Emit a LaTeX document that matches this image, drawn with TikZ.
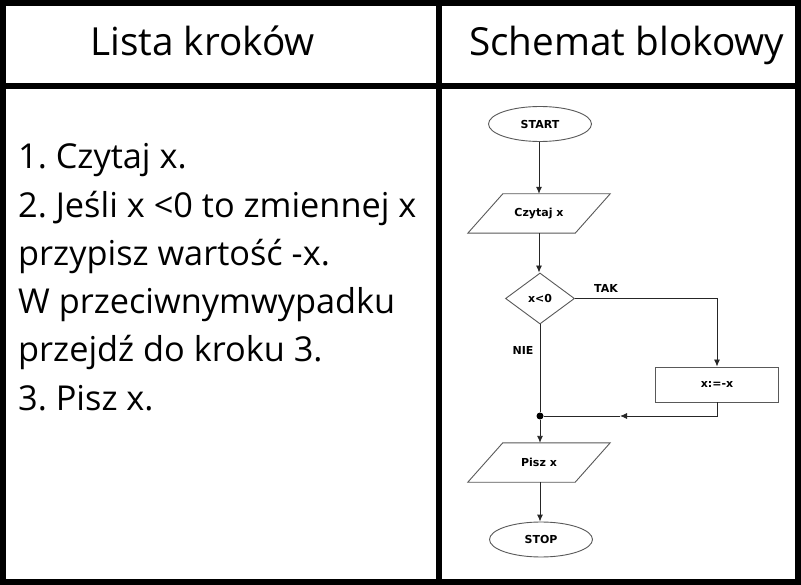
\documentclass[tikz,border=0pt]{standalone}
\usepackage{fontspec}
\setmainfont{Open Sans}
\newfontfamily\fcfont{DejaVu Sans}
\usetikzlibrary{shapes.geometric,arrows.meta}
\begin{document}
\frenchspacing
\begin{tikzpicture}[x=1pt,y=-1pt,
  hdr/.style={anchor=base west,inner sep=0,font=\fontsize{38.7}{40}\selectfont},
  body/.style={anchor=base west,inner sep=0,font=\fontsize{34.3}{36}\selectfont},
  fcfontstyle/.style={font=\fcfont\bfseries\fontsize{11}{12}\selectfont},
  fc/.style={draw=black!65,line width=0.9pt,fcfontstyle,inner sep=0},
  term/.style={fc,ellipse,minimum width=103,minimum height=35},
  iobox/.style={fcfontstyle,rectangle,inner sep=0,minimum width=107,minimum height=39},
  dec/.style={fc,diamond,minimum width=69,minimum height=51},
  proc/.style={fc,rectangle,minimum width=123,minimum height=35},
  ioline/.style={draw=black!65,line width=0.9pt},
  conn/.style={draw=black!85,line width=0.9pt},
  flow/.style={conn,-{Latex[length=7pt,width=6pt]}},
  lbl/.style={fcfontstyle,inner sep=0}
]
\useasboundingbox (0,0) rectangle (801,585);
% frame and cells
\fill[black] (0,0) rectangle (801,585);
\fill[white] (6,6) rectangle (436,83);
\fill[white] (442,6) rectangle (795,83);
\fill[white] (6,89) rectangle (436,579);
\fill[white] (442,89) rectangle (795,579);
% headers
\node[hdr] (h1) at (90,56) {Lista kroków};
\node[hdr] (h2) at (469,56) {Schemat blokowy};
% steps list
\node[body] (l1) at (18,169) {1. Czytaj x.};
\node[body] (l2) at (18,217.2) {2. Jeśli x <0 to zmiennej x};
\node[body] (l3) at (18,265.4) {przypisz wartość -x.};
\node[body] (l4) at (18,313.6) {W przeciwnymwypadku};
\node[body] (l5) at (18,361.8) {przejdź do kroku 3.};
\node[body] (l6) at (18,410) {3. Pisz x.};
% flowchart
\node[term] (start) at (540,124) {START};
\node[iobox] (czytaj) at (539,213.5) {Czytaj x};
\draw[ioline] ([xshift=17.5]czytaj.north west) -- ([xshift=17.5]czytaj.north east)
  -- ([xshift=-17.5]czytaj.south east) -- ([xshift=-17.5]czytaj.south west) -- cycle;
\node[dec] (cond) at (540,298.5) {x<0};
\node[proc] (neg) at (717,384.5) {x:=-x};
\node[circle,fill=black,inner sep=0,minimum size=7] (dot) at (540,416) {};
\node[iobox] (pisz) at (539,462.5) {Pisz x};
\draw[ioline] ([xshift=17.5]pisz.north west) -- ([xshift=17.5]pisz.north east)
  -- ([xshift=-17.5]pisz.south east) -- ([xshift=-17.5]pisz.south west) -- cycle;
\node[term] (stop) at (541,539.5) {STOP};
\coordinate (mid) at (620,416);
\node[lbl] (tak) at (606,288) {TAK};
\node[lbl] (nie) at (523,350) {NIE};
\draw[flow] (start.south -| czytaj.north) -- (czytaj.north);
\draw[flow] (czytaj.south) -- (cond.north -| czytaj.south);
\draw[conn] (cond.south) -- (dot);
\draw[flow] (cond.east) -| (neg.north);
\draw[flow] (neg.south) |- (mid);
\draw[conn] (mid) -- (dot);
\draw[flow] (dot) -- (pisz.north -| dot);
\draw[flow] (pisz.south -| dot) -- (stop.north -| dot);
\end{tikzpicture}
\end{document}
